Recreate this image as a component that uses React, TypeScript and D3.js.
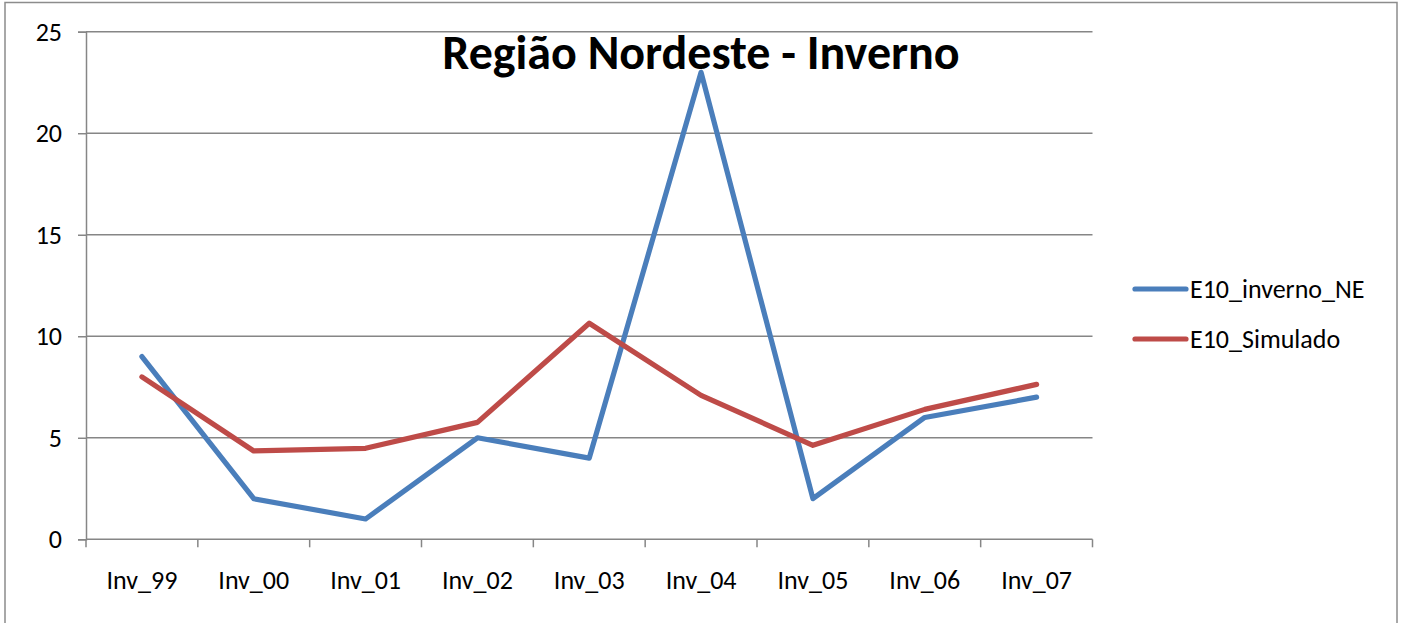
import React, { useRef, useEffect } from 'react';
import * as d3 from 'd3';

const categories = ['Inv_99', 'Inv_00', 'Inv_01', 'Inv_02', 'Inv_03', 'Inv_04', 'Inv_05', 'Inv_06', 'Inv_07'];
const observado = [9, 2, 1, 5, 4, 23, 2, 6, 7];
const simulado = [8.0, 4.35, 4.48, 5.76, 10.64, 7.09, 4.63, 6.4, 7.63];
const yTicks = [0, 5, 10, 15, 20, 25];
const seriesNames = ['E10_inverno_NE', 'E10_Simulado'];
const seriesColors = ['#4a7ebb', '#be4b48'];

const App = () => {
  const svgRef = useRef<SVGSVGElement>(null);

  useEffect(() => {
    const width = 1404;
    const height = 623;
    const plot = { left: 86, top: 31.7, right: 1092.5, bottom: 539.3 };
    const font = 'Carlito, "Open Sans", "Liberation Sans", sans-serif';

    const svg = d3.select(svgRef.current);
    svg.selectAll('*').remove();
    svg.attr('width', width).attr('height', height);

    svg.append('rect')
      .attr('x', 0).attr('y', 0).attr('width', width).attr('height', height)
      .attr('fill', '#fff');

    // outer chart border
    svg.append('rect')
      .attr('x', 5).attr('y', 2.5).attr('width', 1392).attr('height', 640)
      .attr('fill', 'none').attr('stroke', '#8c8c8c').attr('stroke-width', 1.5);

    const x = d3.scaleBand()
      .domain(categories)
      .range([plot.left, plot.right])
      .padding(0);

    const y = d3.scaleLinear()
      .domain([0, 25])
      .range([plot.bottom, plot.top]);

    // gridlines
    svg.append('g')
      .selectAll('line')
      .data(yTicks.filter(t => t > 0))
      .enter().append('line')
      .attr('x1', plot.left).attr('x2', plot.right)
      .attr('y1', d => y(d)).attr('y2', d => y(d))
      .attr('stroke', '#868686').attr('stroke-width', 1.5);

    // y axis
    const yAxis = svg.append('g')
      .attr('transform', `translate(${plot.left},0)`)
      .call(d3.axisLeft(y).tickValues(yTicks).tickSize(8).tickPadding(16).tickFormat(d3.format('d')));
    yAxis.select('.domain').attr('stroke', '#868686').attr('stroke-width', 1.5);
    yAxis.selectAll('.tick line').attr('stroke', '#868686').attr('stroke-width', 1.5);
    yAxis.selectAll('.tick text')
      .attr('font-family', font).attr('font-size', 26).attr('fill', '#000');

    // x axis with ticks at band boundaries
    const xAxisG = svg.append('g')
      .attr('transform', `translate(0,${plot.bottom})`);
    xAxisG.append('line')
      .attr('x1', plot.left).attr('x2', plot.right)
      .attr('stroke', '#868686').attr('stroke-width', 1.5);
    const bounds = categories.map(c => x(c) as number).concat([plot.right]);
    xAxisG.selectAll('.xt')
      .data(bounds)
      .enter().append('line')
      .attr('class', 'xt')
      .attr('x1', d => d).attr('x2', d => d)
      .attr('y1', 0).attr('y2', 8)
      .attr('stroke', '#868686').attr('stroke-width', 1.5);
    xAxisG.selectAll('text')
      .data(categories)
      .enter().append('text')
      .attr('x', d => (x(d) as number) + x.bandwidth() / 2)
      .attr('y', 50)
      .attr('text-anchor', 'middle')
      .attr('font-family', font).attr('font-size', 26).attr('fill', '#000')
      .text(d => d);

    // lines
    const line = d3.line<number>()
      .x((d, i) => (x(categories[i]) as number) + x.bandwidth() / 2)
      .y(d => y(d));

    [observado, simulado].forEach((vals, i) => {
      svg.append('path')
        .datum(vals)
        .attr('d', line)
        .attr('fill', 'none')
        .attr('stroke', seriesColors[i])
        .attr('stroke-width', 5.2)
        .attr('stroke-linejoin', 'round')
        .attr('stroke-linecap', 'round');
    });

    // title
    svg.append('text')
      .attr('x', 701).attr('y', 69)
      .attr('text-anchor', 'middle')
      .attr('font-family', font).attr('font-weight', 'bold').attr('font-size', 48)
      .attr('fill', '#000')
      .text('Região Nordeste - Inverno');

    // legend
    const legend = svg.append('g');
    seriesNames.forEach((name, i) => {
      const ly = 289 + i * 50;
      legend.append('line')
        .attr('x1', 1135).attr('x2', 1186)
        .attr('y1', ly).attr('y2', ly)
        .attr('stroke', seriesColors[i]).attr('stroke-width', 5.2)
        .attr('stroke-linecap', 'round');
      legend.append('text')
        .attr('x', 1190).attr('y', ly + 9)
        .attr('font-family', font).attr('font-size', 26).attr('fill', '#000')
        .text(name);
    });
  }, []);

  return (
    <svg ref={svgRef} style={{ position: 'absolute', left: 0, top: 0 }}></svg>
  );
};

export default App;
